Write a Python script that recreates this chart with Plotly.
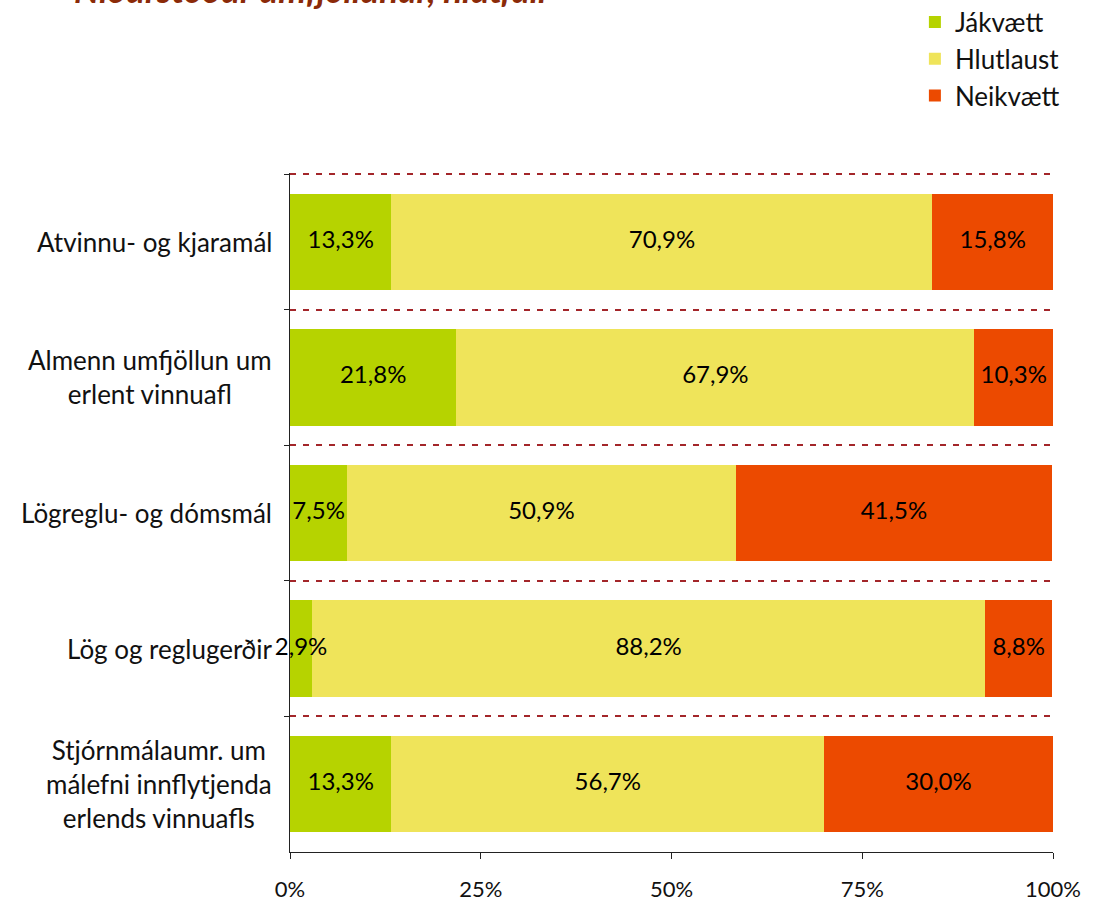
import plotly.graph_objects as go

FONT = "Lato"
categories = [
    "Atvinnu- og kjaramál",
    "Almenn umfjöllun um<br>erlent vinnuafl",
    "Lögreglu- og dómsmál",
    "Lög og reglugerðir",
    "Stjórnmálaumr. um<br>málefni innflytjenda<br>erlends vinnuafls",
]
jakvaett = [13.3, 21.8, 7.5, 2.9, 13.3]
hlutlaust = [70.9, 67.9, 50.9, 88.2, 56.7]
neikvaett = [15.8, 10.3, 41.5, 8.8, 30.0]
x_ticks = [0, 25, 50, 75, 100]

series = [
    ("Jákvætt", jakvaett, "#B6D300"),
    ("Hlutlaust", hlutlaust, "#EFE45A"),
    ("Neikvætt", neikvaett, "#EC4A00"),
]
GRIDC = "#A3262A"


def pct(v):
    return f"{v:.1f}%".replace(".", ",")


fig = go.Figure()
base = [0] * len(categories)
lab_x, lab_y, lab_t = [], [], []
for name, vals, col in series:
    fig.add_trace(go.Bar(
        y=categories, x=vals, name=name, orientation="h",
        marker=dict(color=col, line=dict(width=0)),
    ))
    # label at the middle of each segment, drawn on top of all bars
    for i, v in enumerate(vals):
        lab_x.append(base[i] + v / 2)
        lab_y.append(categories[i])
        lab_t.append(pct(v))
        base[i] += v

fig.add_trace(go.Scatter(
    x=lab_x, y=lab_y, text=lab_t, mode="text", showlegend=False,
    textposition="middle center", cliponaxis=False, hoverinfo="skip",
    textfont=dict(family=FONT, size=24, color="black"),
))

# category labels, centred lines
annos = [dict(text=c, xref="paper", yref="y", x=0, y=c, xshift=-16,
              xanchor="right", yanchor="middle", align="center", showarrow=False,
              font=dict(family=FONT, size=26, color="#111")) for c in categories]
annos.append(dict(text="<b><i>Niðurstöður umfjöllunar, hlutfall</i></b>", xref="paper",
                  yref="paper", x=-0.286, y=1.237, xanchor="left", yanchor="bottom",
                  showarrow=False, font=dict(family=FONT, size=35, color="#8B2A08")))

fig.update_layout(
    barmode="stack", bargap=0.29,
    width=1097, height=902,
    paper_bgcolor="white", plot_bgcolor="white",
    font=dict(family=FONT, size=22, color="#111"),
    margin=dict(l=290, r=44, t=173, b=50, autoexpand=False),
    legend=dict(x=0.819, y=1.257, xanchor="left", yanchor="top",
                traceorder="normal", font=dict(family=FONT, size=26),
                bgcolor="rgba(0,0,0,0)", itemwidth=30),
    annotations=annos,
    shapes=[dict(type="line", xref="paper", yref="y", x0=0, x1=1,
                 y0=-0.5, y1=-0.5, line=dict(color=GRIDC, width=2, dash="6px,7px"))],
    showlegend=True,
)
fig.update_xaxes(
    range=[0, 100], tickvals=x_ticks, ticktext=[f"{t}%" for t in x_ticks],
    showgrid=False, zeroline=False, showline=True, linecolor="#222", linewidth=1,
    ticks="outside", ticklen=6, tickcolor="#222", ticklabelstandoff=12,
    tickfont=dict(family=FONT, size=22),
)
fig.update_yaxes(
    autorange="reversed", tickson="boundaries", showticklabels=False,
    showgrid=True, gridcolor=GRIDC, griddash="6px,7px", gridwidth=2,
    showline=True, linecolor="#222", linewidth=1,
    ticks="outside", ticklen=5, tickcolor="#222",
)
fig.write_html("out.html", config=dict(displayModeBar=False),
               post_script="document.body.style.margin='0';")
